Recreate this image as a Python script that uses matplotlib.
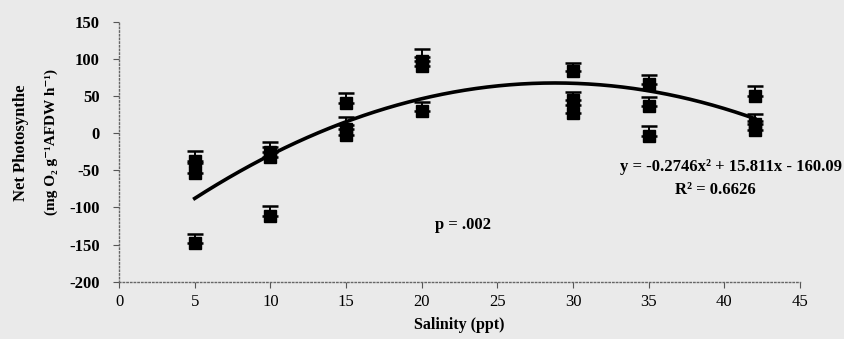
import numpy as np
import matplotlib.pyplot as plt

# readings
salinity = [5, 5, 5, 10, 10, 10, 15, 15, 15, 20, 20, 20,
            30, 30, 30, 35, 35, 35, 42, 42, 42]
net_photo = [-37, -53, -148, -26, -32, -111, 41, 5, -2, 97, 90, 30,
             83, 45, 27, 66, 37, -4, 50, 12, 4]
upper_err = [13, 13, 12, 14, 14, 13, 13, 17, 13, 16, 13, 12,
             11, 11, 11, 12, 12, 13, 13, 14, 13]

# quadratic fit printed on the chart
fit_coef = [-0.2746, 15.811, -160.09]
fit_range = [5, 42]

xticks = list(range(0, 50, 5))
yticks = list(range(-200, 200, 50))

bg = '#eaeaea'
plt.rcParams['font.family'] = ['Liberation Serif', 'DejaVu Serif']
plt.rcParams['axes.unicode_minus'] = False

fig = plt.figure(figsize=(8.44, 3.39), dpi=100, facecolor=bg)
ax = fig.add_axes([0.141, 0.169, 0.807, 0.767], facecolor=bg)

ax.errorbar(salinity, net_photo,
            yerr=[np.zeros(len(upper_err)), upper_err],
            fmt='s', color='black', markersize=8.5,
            elinewidth=1.4, capsize=6, capthick=1.8, zorder=3)

xs = np.linspace(fit_range[0], fit_range[1], 200)
ax.plot(xs, np.polyval(fit_coef, xs), color='black', linewidth=2.6, zorder=2)

ax.set_xlim(0, 45)
ax.set_ylim(-200, 150)
ax.set_xticks(xticks)
ax.set_yticks(yticks)
ax.tick_params(axis='y', direction='out', length=4, width=0.8, colors='#555555',
               labelcolor='black', pad=10)
ax.tick_params(axis='x', direction='out', length=4, width=0.8, colors='#555555',
               labelcolor='black', pad=5)
for lab in ax.get_yticklabels():
    lab.set_fontweight('bold')
    lab.set_fontsize(12)
for lab in ax.get_xticklabels():
    lab.set_fontsize(12)

for side in ['top', 'right']:
    ax.spines[side].set_visible(False)
for side in ['left', 'bottom']:
    ax.spines[side].set_linestyle(':')
    ax.spines[side].set_color('#666666')
    ax.spines[side].set_linewidth(1.0)

ax.set_xlabel('Salinity (ppt)', fontsize=11.5, fontweight='bold', labelpad=5)

fig.text(0.025, 0.58, 'Net Photosynthe', rotation=90, fontsize=12,
         fontweight='bold', ha='center', va='center')
fig.text(0.061, 0.58, '(mg O₂ g⁻¹AFDW h⁻¹)', rotation=90,
         fontsize=11, fontweight='bold', ha='center', va='center')

fig.text(0.998, 0.508, 'y = -0.2746x² + 15.811x - 160.09', fontsize=12,
         fontweight='bold', ha='right', va='center')
fig.text(0.848, 0.44, 'R² = 0.6626', fontsize=12, fontweight='bold',
         ha='center', va='center')
fig.text(0.548, 0.336, 'p = .002', fontsize=12, fontweight='bold',
         ha='center', va='center')

fig.savefig('out.png', dpi=100, facecolor=bg)
